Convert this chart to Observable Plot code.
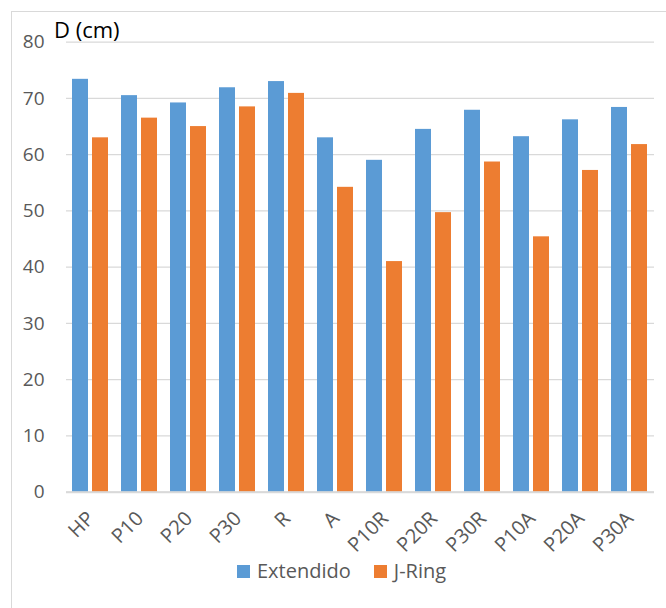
<!DOCTYPE html>
<html>
<head>
<meta charset="utf-8">
<script src="https://cdn.jsdelivr.net/npm/d3@7"></script>
<script src="https://cdn.jsdelivr.net/npm/@observablehq/plot@0.6"></script>
<style>
  html, body { margin: 0; padding: 0; background: white; width: 666px; height: 608px; overflow: hidden; }
  #wrap { position: relative; width: 666px; height: 608px; font-family: "Open Sans", sans-serif; }
  #frame { position: absolute; left: 11px; top: 11px; width: 700px; height: 700px; border: 1px solid #d9d9d9; box-sizing: border-box; }
  #chart { position: absolute; left: 0; top: 0; }
  #ylabel { position: absolute; left: 54px; top: 18px; font-size: 22px; color: #000; line-height: 1; }
  #legend { position: absolute; left: 237px; top: 561px; display: flex; align-items: center; font-size: 20px; color: #595959; line-height: 1; }
  .sw { display: inline-block; width: 13px; height: 13px; margin-right: 7px; }
  .item { display: flex; align-items: center; margin-right: 23px; }
  g[aria-label^="fx-axis"] text { font-size: 20px; }
</style>
</head>
<body>
<div id="wrap">
  <div id="frame"></div>
  <div id="chart"></div>
  <div id="ylabel">D (cm)</div>
  <div id="legend"></div>
</div>
<script>
const categories = ["HP", "P10", "P20", "P30", "R", "A", "P10R", "P20R", "P30R", "P10A", "P20A", "P30A"];
const extendido = [73.4, 70.5, 69.2, 71.9, 73.0, 63.0, 59.0, 64.5, 67.9, 63.2, 66.2, 68.4];
const jRing = [63.0, 66.5, 65.0, 68.5, 70.9, 54.2, 41.0, 49.7, 58.7, 45.4, 57.2, 61.8];
const seriesNames = ["Extendido", "J-Ring"];
const seriesColors = ["#5B9BD5", "#ED7D31"];
const yTicks = [0, 10, 20, 30, 40, 50, 60, 70, 80];

const data = categories.flatMap((c, i) => [
  {category: c, series: seriesNames[0], value: extendido[i]},
  {category: c, series: seriesNames[1], value: jRing[i]}
]);

const chart = Plot.plot({
  width: 666,
  height: 550,
  marginLeft: 62,
  marginRight: 8,
  marginTop: 41.7,
  marginBottom: 58.3,
  style: {fontFamily: "'Open Sans', sans-serif", fontSize: "19px", color: "#595959", background: "transparent", overflow: "visible"},
  fx: {domain: categories, padding: 0, label: null, tickRotate: -45, tickSize: 0, tickPadding: 23},
  x: {domain: seriesNames, axis: null, paddingInner: 0.19, paddingOuter: 0.3},
  y: {domain: [0, 80], ticks: yTicks, tickSize: 0, tickPadding: 22, label: null},
  color: {domain: seriesNames, range: seriesColors},
  marks: [
    Plot.gridY(yTicks, {stroke: "#d9d9d9", strokeOpacity: 1, strokeWidth: 1.2}),
    Plot.barY(data, {fx: "category", x: "series", y: "value", fill: "series"}),
    Plot.ruleY([0], {stroke: "#d9d9d9", strokeWidth: 2})
  ]
});
document.getElementById("chart").appendChild(chart);

const legend = document.getElementById("legend");
seriesNames.forEach((s, i) => {
  const item = document.createElement("div");
  item.className = "item";
  const sw = document.createElement("span");
  sw.className = "sw";
  sw.style.background = seriesColors[i];
  item.appendChild(sw);
  const t = document.createElement("span");
  t.textContent = s;
  item.appendChild(t);
  legend.appendChild(item);
});
</script>
</body>
</html>
